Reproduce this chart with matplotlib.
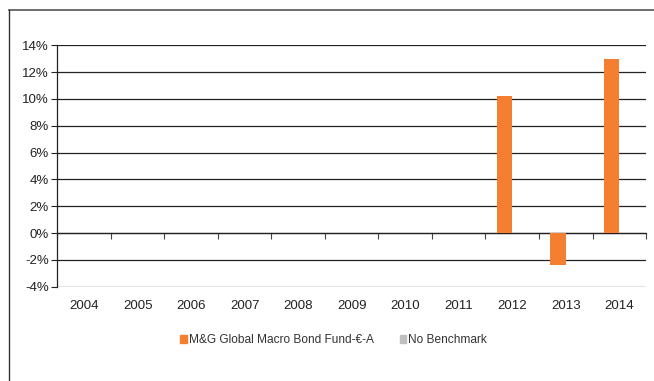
import matplotlib
matplotlib.use('Agg')
import matplotlib.pyplot as plt
from matplotlib.lines import Line2D
from matplotlib.patches import Patch
import numpy as np

plt.rcParams['font.family'] = ['Liberation Sans Narrow', 'Liberation Sans', 'DejaVu Sans']

years = ['2004', '2005', '2006', '2007', '2008', '2009', '2010', '2011', '2012', '2013', '2014']
fund = [0, 0, 0, 0, 0, 0, 0, 0, 10.2, -2.4, 13.0]
benchmark = [0, 0, 0, 0, 0, 0, 0, 0, 0, 0, 0]
fund_name = 'M&G Global Macro Bond Fund-€-A'
bench_name = 'No Benchmark'

ORANGE = '#F47F30'
GREY = '#BFBFBF'

fig = plt.figure(figsize=(6.54, 3.81), dpi=100)
ax = fig.add_axes([0.0876, 0.2467, 0.9002, 0.6352])

x = np.arange(len(years))
w = 0.29
ax.bar(x - w / 2, fund, w, color=ORANGE, zorder=3)
ax.bar(x + w / 2, benchmark, w, color=GREY, zorder=3)

ax.set_xlim(-0.5, len(years) - 0.5)
ax.set_ylim(-4.03, 14.03)
ax.set_yticks(np.arange(-4, 15, 2))
ax.set_yticklabels(['%d%%' % v for v in np.arange(-4, 15, 2)], fontsize=9.5, color='#222222')
ax.tick_params(axis='y', direction='out', length=4, width=0.8, pad=2, colors='#222222')
ax.yaxis.grid(True, color='#222222', lw=0.9, zorder=1)
ax.set_axisbelow(True)

ax.set_xticks(x)
ax.set_xticklabels(years, fontsize=9.5, color='#222222')
ax.tick_params(axis='x', length=0, pad=9)

for s in ['top', 'right', 'bottom']:
  ax.spines[s].set_visible(False)
ax.spines['left'].set_color('#222222')
ax.spines['left'].set_linewidth(0.9)

# zero axis with category-boundary ticks
zero = ax.secondary_xaxis(4.03 / 18.06)
zero.set_xticks(np.arange(-0.5, len(years), 1.0))
zero.set_xticklabels([''] * (len(years) + 1))
zero.tick_params(direction='out', length=4, width=0.8, colors='#444444')
zero.spines['bottom'].set_color('#333333')
zero.spines['bottom'].set_linewidth(0.9)

handles = [Patch(color=ORANGE), Patch(color=GREY)]
fig.legend(handles, [fund_name, bench_name], loc='center', bbox_to_anchor=(0.51, 0.107),
           ncol=2, frameon=False, fontsize=8.6, handlelength=0.55, handleheight=0.55,
           handletextpad=0.15, columnspacing=2.2, labelcolor='#333333')

# outer frame
fig.add_artist(Line2D([0.013, 1.0], [0.974, 0.974], color='#555555', lw=1.2, transform=fig.transFigure))
fig.add_artist(Line2D([0.013, 0.013], [0.0, 0.974], color='#333333', lw=1.0, transform=fig.transFigure))

fig.savefig('out.png', dpi=100)
